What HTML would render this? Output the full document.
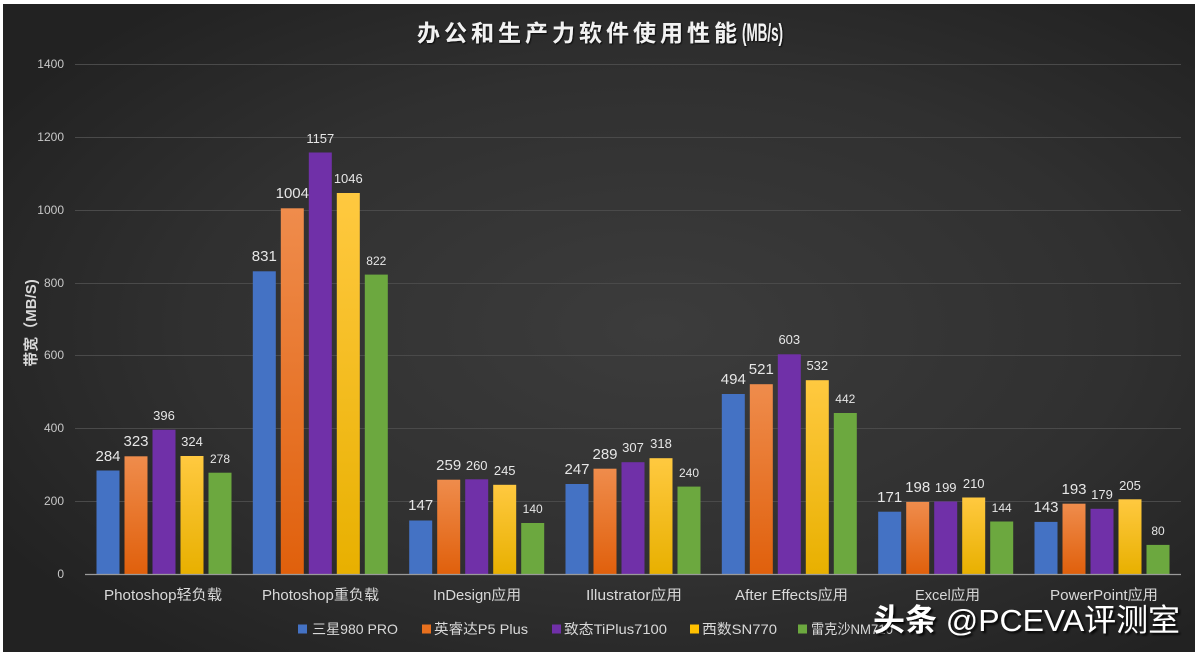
<!DOCTYPE html>
<html><head><meta charset="utf-8"><style>
html,body{margin:0;padding:0;background:#fff;}
svg{display:block;}
text{font-family:"Liberation Sans","Noto Sans CJK SC",sans-serif;}
</style></head><body>
<svg width="1200" height="656" viewBox="0 0 1200 656" xmlns="http://www.w3.org/2000/svg">
<defs>
<radialGradient id="bg" cx="55%" cy="50%" r="65%">
<stop offset="0" stop-color="#3c3c3c"/><stop offset="0.6" stop-color="#303030"/><stop offset="1" stop-color="#222"/>
</radialGradient>
<linearGradient id="og" x1="0" y1="0" x2="0" y2="1"><stop offset="0" stop-color="#ef8c4c"/><stop offset="1" stop-color="#e0600c"/></linearGradient>
<linearGradient id="yg" x1="0" y1="0" x2="0" y2="1"><stop offset="0" stop-color="#ffc940"/><stop offset="1" stop-color="#e8b000"/></linearGradient>
<filter id="sh" x="-5%" y="-20%" width="110%" height="150%"><feDropShadow dx="2" dy="2" stdDeviation="1" flood-color="#000" flood-opacity="0.9"/></filter>
<filter id="ts" x="-5%" y="-20%" width="110%" height="150%"><feDropShadow dx="1" dy="1" stdDeviation="0.8" flood-color="#000" flood-opacity="0.8"/></filter>
</defs>
<rect x="3" y="4" width="1192" height="648" fill="url(#bg)"/>
<!-- title -->
<g filter="url(#ts)" fill="#f2f2f2" font-weight="bold">
<text x="417" y="41" font-size="23" letter-spacing="4">办公和生产力软件使用性能</text>
<text x="742" y="41" font-size="25" textLength="41" lengthAdjust="spacingAndGlyphs">(MB/s)</text>
</g>
<!-- gridlines -->
<g stroke="#4a4a4a" stroke-width="1">
<line x1="75" y1="64.5" x2="1181" y2="64.5"/>
<line x1="75" y1="137.5" x2="1181" y2="137.5"/>
<line x1="75" y1="210.5" x2="1181" y2="210.5"/>
<line x1="75" y1="283.5" x2="1181" y2="283.5"/>
<line x1="75" y1="355.5" x2="1181" y2="355.5"/>
<line x1="75" y1="428.5" x2="1181" y2="428.5"/>
<line x1="75" y1="501.5" x2="1181" y2="501.5"/>
</g>
<!-- y labels -->
<g fill="#c8c8c8" font-size="12" text-anchor="end">
<text x="64" y="68">1400</text>
<text x="64" y="141">1200</text>
<text x="64" y="214">1000</text>
<text x="64" y="287">800</text>
<text x="64" y="359">600</text>
<text x="64" y="432">400</text>
<text x="64" y="505">200</text>
<text x="64" y="578">0</text>
</g>
<text transform="translate(36,323) rotate(-90)" text-anchor="middle" fill="#d9d9d9" font-size="15" font-weight="bold">带宽（MB/S)</text>
<!-- bars -->
<g>
<rect x="96.5" y="470.5" width="23" height="103.5" fill="#4472c4"/>
<rect x="124.5" y="456.3" width="23" height="117.7" fill="url(#og)"/>
<rect x="152.5" y="429.7" width="23" height="144.3" fill="#7030a8"/>
<rect x="180.5" y="456.0" width="23" height="118.0" fill="url(#yg)"/>
<rect x="208.5" y="472.7" width="23" height="101.3" fill="#6ca83f"/>

<rect x="252.8" y="271.3" width="23" height="302.7" fill="#4472c4"/>
<rect x="280.8" y="208.3" width="23" height="365.7" fill="url(#og)"/>
<rect x="308.8" y="152.5" width="23" height="421.5" fill="#7030a8"/>
<rect x="336.8" y="193.0" width="23" height="381.0" fill="url(#yg)"/>
<rect x="364.8" y="274.6" width="23" height="299.4" fill="#6ca83f"/>

<rect x="409.2" y="520.5" width="23" height="53.5" fill="#4472c4"/>
<rect x="437.2" y="479.7" width="23" height="94.3" fill="url(#og)"/>
<rect x="465.2" y="479.3" width="23" height="94.7" fill="#7030a8"/>
<rect x="493.2" y="484.8" width="23" height="89.2" fill="url(#yg)"/>
<rect x="521.2" y="523.0" width="23" height="51.0" fill="#6ca83f"/>

<rect x="565.5" y="484.0" width="23" height="90.0" fill="#4472c4"/>
<rect x="593.5" y="468.7" width="23" height="105.3" fill="url(#og)"/>
<rect x="621.5" y="462.2" width="23" height="111.8" fill="#7030a8"/>
<rect x="649.5" y="458.2" width="23" height="115.8" fill="url(#yg)"/>
<rect x="677.5" y="486.6" width="23" height="87.4" fill="#6ca83f"/>

<rect x="721.8" y="394.0" width="23" height="180.0" fill="#4472c4"/>
<rect x="749.8" y="384.2" width="23" height="189.8" fill="url(#og)"/>
<rect x="777.8" y="354.3" width="23" height="219.7" fill="#7030a8"/>
<rect x="805.8" y="380.2" width="23" height="193.8" fill="url(#yg)"/>
<rect x="833.8" y="413.0" width="23" height="161.0" fill="#6ca83f"/>

<rect x="878.2" y="511.7" width="23" height="62.3" fill="#4472c4"/>
<rect x="906.2" y="501.9" width="23" height="72.1" fill="url(#og)"/>
<rect x="934.2" y="501.5" width="23" height="72.5" fill="#7030a8"/>
<rect x="962.2" y="497.5" width="23" height="76.5" fill="url(#yg)"/>
<rect x="990.2" y="521.5" width="23" height="52.5" fill="#6ca83f"/>

<rect x="1034.5" y="521.9" width="23" height="52.1" fill="#4472c4"/>
<rect x="1062.5" y="503.7" width="23" height="70.3" fill="url(#og)"/>
<rect x="1090.5" y="508.8" width="23" height="65.2" fill="#7030a8"/>
<rect x="1118.5" y="499.3" width="23" height="74.7" fill="url(#yg)"/>
<rect x="1146.5" y="544.9" width="23" height="29.1" fill="#6ca83f"/>
</g>
<line x1="85" y1="574.5" x2="1181" y2="574.5" stroke="#9a9a9a" stroke-width="1.2"/>
<!-- value labels -->
<g fill="#e6e6e6" text-anchor="middle">
<g font-size="15">
<text x="108" y="461">284</text><text x="136" y="446">323</text>
<text x="264.3" y="261">831</text><text x="292.3" y="198">1004</text>
<text x="420.7" y="510">147</text><text x="448.7" y="470">259</text>
<text x="577" y="474">247</text><text x="605" y="459">289</text>
<text x="733.3" y="384">494</text><text x="761.3" y="374">521</text>
<text x="889.7" y="502">171</text><text x="917.7" y="492">198</text>
<text x="1046" y="512">143</text><text x="1074" y="494">193</text>
</g>
<g font-size="13">
<text x="164" y="420">396</text><text x="192" y="446">324</text>
<text x="320.3" y="143">1157</text><text x="348.3" y="183">1046</text>
<text x="476.7" y="470">260</text><text x="504.7" y="475">245</text>
<text x="633" y="452">307</text><text x="661" y="448">318</text>
<text x="789.3" y="344">603</text><text x="817.3" y="370">532</text>
<text x="945.7" y="492">199</text><text x="973.7" y="488">210</text>
<text x="1102" y="499">179</text><text x="1130" y="490">205</text>
</g>
<g font-size="12">
<text x="220" y="463">278</text>
<text x="376.3" y="265">822</text>
<text x="532.7" y="513">140</text>
<text x="689" y="477">240</text>
<text x="845.3" y="403">442</text>
<text x="1001.7" y="512">144</text>
<text x="1158" y="535">80</text>
</g>
</g>
<!-- category labels -->
<g fill="#d9d9d9" font-size="14.5">
<text x="104" y="600" textLength="118" lengthAdjust="spacingAndGlyphs">Photoshop轻负载</text>
<text x="262" y="600" textLength="117" lengthAdjust="spacingAndGlyphs">Photoshop重负载</text>
<text x="433" y="600" textLength="88" lengthAdjust="spacingAndGlyphs">InDesign应用</text>
<text x="586" y="600" textLength="96" lengthAdjust="spacingAndGlyphs">Illustrator应用</text>
<text x="735" y="600" textLength="113" lengthAdjust="spacingAndGlyphs">After Effects应用</text>
<text x="915" y="600" textLength="65" lengthAdjust="spacingAndGlyphs">Excel应用</text>
<text x="1050" y="600" textLength="108" lengthAdjust="spacingAndGlyphs">PowerPoint应用</text>
</g>
<!-- legend -->
<g font-size="14" fill="#d9d9d9">
<rect x="298" y="624.5" width="9" height="9" fill="#4472c4"/>
<text x="312" y="634" textLength="86" lengthAdjust="spacingAndGlyphs">三星980 PRO</text>
<rect x="422" y="624.5" width="9" height="9" fill="#e8701e"/>
<text x="434" y="634" textLength="94" lengthAdjust="spacingAndGlyphs">英睿达P5 Plus</text>
<rect x="552" y="624.5" width="9" height="9" fill="#7030a8"/>
<text x="564" y="634" textLength="103" lengthAdjust="spacingAndGlyphs">致态TiPlus7100</text>
<rect x="690" y="624.5" width="9" height="9" fill="#ffc000"/>
<text x="702" y="634" textLength="75" lengthAdjust="spacingAndGlyphs">西数SN770</text>
<rect x="798" y="624.5" width="9" height="9" fill="#6ca83f"/>
<text x="811" y="634" textLength="82" lengthAdjust="spacingAndGlyphs">雷克沙NM710</text>
</g>
<!-- watermark -->
<text x="873" y="631" font-size="31" fill="#ffffff" filter="url(#sh)" textLength="307" lengthAdjust="spacingAndGlyphs"><tspan font-weight="bold">头条</tspan> @PCEVA评测室</text>
</svg>
</body></html>
